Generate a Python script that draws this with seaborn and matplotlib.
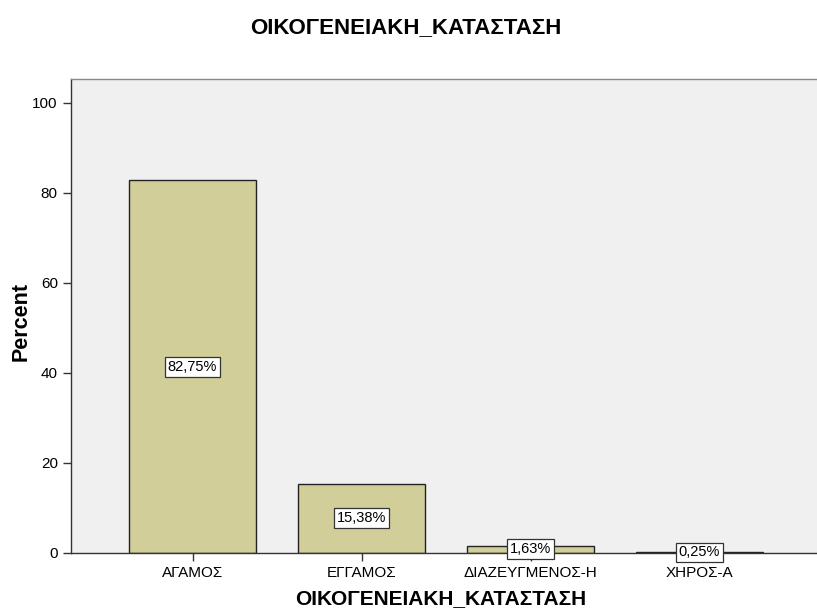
import numpy as np
import pandas as pd
import matplotlib
matplotlib.use("Agg")
import matplotlib.pyplot as plt
import seaborn as sns

# ── Data ─────────────────────────────────────────────────────────────────────
categories = ["ΑΓΑΜΟΣ", "ΕΓΓΑΜΟΣ", "ΔΙΑΖΕΥΓΜΕΝΟΣ-Η", "ΧΗΡΟΣ-Α"]
percents = [82.75, 15.38, 1.63, 0.25]
labels = ["82,75%", "15,38%", "1,63%", "0,25%"]
var_name = "ΟΙΚΟΓΕΝΕΙΑΚΗ_ΚΑΤΑΣΤΑΣΗ"

df = pd.DataFrame({"cat": categories, "pct": percents})

sns.set_style("white")
plt.rcParams["font.family"] = ["Liberation Sans", "DejaVu Sans"]
plt.rcParams["text.color"] = "black"
plt.rcParams["axes.labelcolor"] = "black"
plt.rcParams["xtick.color"] = "black"
plt.rcParams["ytick.color"] = "black"

fig = plt.figure(figsize=(8.17, 6.16), dpi=100)
ax = fig.add_axes([0.0869, 0.1023, 0.9131, 0.7695])
ax.set_facecolor("#F0F0F0")

sns.barplot(data=df, x="cat", y="pct", order=categories, color="#D2CE9A",
            saturation=1, width=0.75, edgecolor="#222222", linewidth=1.0, ax=ax)

for i, (v, lab) in enumerate(zip(percents, labels)):
    ax.text(i, v / 2, lab, ha="center", va="center", fontsize=10.5,
            bbox=dict(boxstyle="square,pad=0.2", fc="white", ec="#333333", lw=0.9))

ax.set_xlim(-0.719, 3.695)
ax.set_ylim(0, 105.3)
ax.set_yticks([0, 20, 40, 60, 80, 100])
ax.tick_params(axis="both", direction="out", length=6, width=1, color="#333333",
               labelsize=11, pad=3.5, left=True, bottom=True)
for s in ["left", "bottom"]:
    ax.spines[s].set_color("#333333")
    ax.spines[s].set_linewidth(1.0)
ax.spines["top"].set_color("#888888")
ax.spines["top"].set_linewidth(1.0)
ax.spines["right"].set_visible(False)

ax.set_xlabel(var_name, fontsize=15, fontweight="bold", va="top")
ax.xaxis.set_label_coords(0.496, -0.076)
ax.set_ylabel("Percent", fontsize=15.5, fontweight="bold")
ax.yaxis.set_label_coords(-0.053, 0.489)
fig.text(0.497, (616 - 33) / 616, var_name, ha="center", va="baseline",
         fontsize=16, fontweight="bold")

fig.savefig("out.png", dpi=100, facecolor="white")
